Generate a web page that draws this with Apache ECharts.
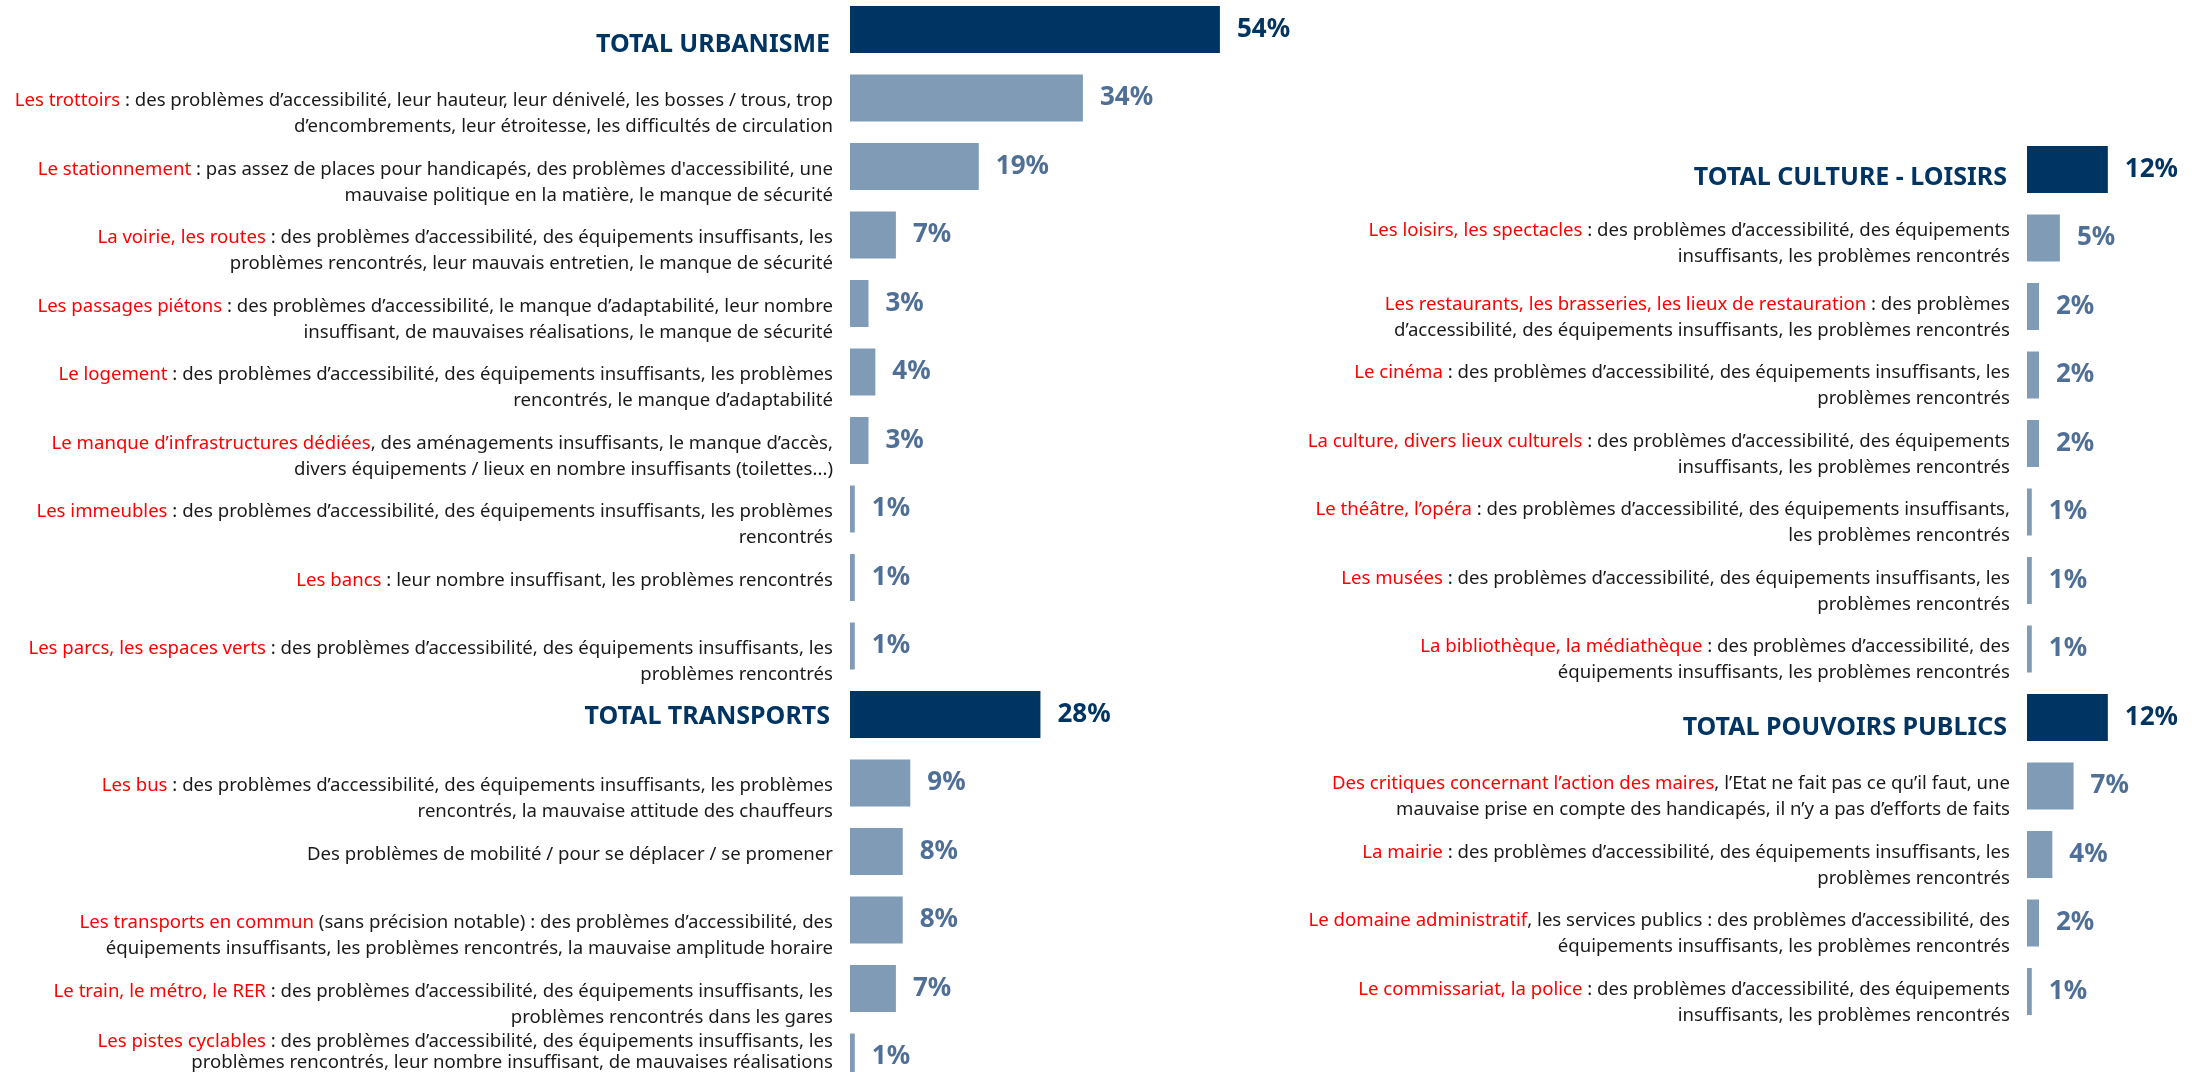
<!DOCTYPE html>
<html>
<head>
<meta charset="utf-8">
<script src="https://cdn.jsdelivr.net/npm/echarts@6/dist/echarts.min.js"></script>
<style>
  html, body { margin: 0; padding: 0; background: #fff; }
  #chart { width: 2192px; height: 1072px; }
</style>
</head>
<body>
<div id="chart"></div>
<script>
// catégories : partie rouge | suite en noir (\n = retour à la ligne)
const leftCats = [
  'TOTAL URBANISME',
  'Les trottoirs| : des problèmes d’accessibilité, leur hauteur, leur dénivelé, les bosses / trous, trop\nd’encombrements, leur étroitesse, les difficultés de circulation',
  'Le stationnement| : pas assez de places pour handicapés, des problèmes d\'accessibilité, une\nmauvaise politique en la matière, le manque de sécurité',
  'La voirie, les routes| : des problèmes d’accessibilité, des équipements insuffisants, les\nproblèmes rencontrés, leur mauvais entretien, le manque de sécurité',
  'Les passages piétons| : des problèmes d’accessibilité, le manque d’adaptabilité, leur nombre\ninsuffisant, de mauvaises réalisations, le manque de sécurité',
  'Le logement| : des problèmes d’accessibilité, des équipements insuffisants, les problèmes\nrencontrés, le manque d’adaptabilité',
  'Le manque d’infrastructures dédiées|, des aménagements insuffisants, le manque d’accès,\ndivers équipements / lieux en nombre insuffisants (toilettes...)',
  'Les immeubles| : des problèmes d’accessibilité, des équipements insuffisants, les problèmes\nrencontrés',
  'Les bancs| : leur nombre insuffisant, les problèmes rencontrés',
  'Les parcs, les espaces verts| : des problèmes d’accessibilité, des équipements insuffisants, les\nproblèmes rencontrés',
  'TOTAL TRANSPORTS',
  'Les bus| : des problèmes d’accessibilité, des équipements insuffisants, les problèmes\nrencontrés, la mauvaise attitude des chauffeurs',
  '|Des problèmes de mobilité / pour se déplacer / se promener',
  'Les transports en commun| (sans précision notable) : des problèmes d’accessibilité, des\néquipements insuffisants, les problèmes rencontrés, la mauvaise amplitude horaire',
  'Le train, le métro, le RER| : des problèmes d’accessibilité, des équipements insuffisants, les\nproblèmes rencontrés dans les gares',
  'Les pistes cyclables| : des problèmes d’accessibilité, des équipements insuffisants, les\nproblèmes rencontrés, leur nombre insuffisant, de mauvaises réalisations'
]
const leftValues = [54, 34, 18.8, 6.7, 2.7, 3.7, 2.7, 0.7, 0.7, 0.7, 27.8, 8.8, 7.7, 7.7, 6.7, 0.7]

const rightCats = [
  'TOTAL CULTURE - LOISIRS',
  'Les loisirs, les spectacles| : des problèmes d’accessibilité, des équipements\ninsuffisants, les problèmes rencontrés',
  'Les restaurants, les brasseries, les lieux de restauration| : des problèmes\nd’accessibilité, des équipements insuffisants, les problèmes rencontrés',
  'Le cinéma| : des problèmes d’accessibilité, des équipements insuffisants, les\nproblèmes rencontrés',
  'La culture, divers lieux culturels| : des problèmes d’accessibilité, des équipements\ninsuffisants, les problèmes rencontrés',
  'Le théâtre, l’opéra| : des problèmes d’accessibilité, des équipements insuffisants,\nles problèmes rencontrés',
  'Les musées| : des problèmes d’accessibilité, des équipements insuffisants, les\nproblèmes rencontrés',
  'La bibliothèque, la médiathèque| : des problèmes d’accessibilité, des\néquipements insuffisants, les problèmes rencontrés',
  'TOTAL POUVOIRS PUBLICS',
  'Des critiques concernant l’action des maires|, l’Etat ne fait pas ce qu’il faut, une\nmauvaise prise en compte des handicapés, il n’y a pas d’efforts de faits',
  'La mairie| : des problèmes d’accessibilité, des équipements insuffisants, les\nproblèmes rencontrés',
  'Le domaine administratif|, les services publics : des problèmes d’accessibilité, des\néquipements insuffisants, les problèmes rencontrés',
  'Le commissariat, la police| : des problèmes d’accessibilité, des équipements\ninsuffisants, les problèmes rencontrés'
]
const rightValues = [11.8, 4.8, 1.75, 1.75, 1.75, 0.7, 0.7, 0.7, 11.8, 6.8, 3.7, 1.75, 0.7]

const totals = ['TOTAL URBANISME', 'TOTAL TRANSPORTS', 'TOTAL CULTURE - LOISIRS', 'TOTAL POUVOIRS PUBLICS']
// libellés centrés sur la barre (interligne serré)
const compactRows = ['Les pistes cyclables']
// décalage vertical des libellés (px, + = vers le bas)
const labelShift = {
  'TOTAL URBANISME': 15,
  'TOTAL TRANSPORTS': 2,
  'TOTAL CULTURE - LOISIRS': 8,
  'TOTAL POUVOIRS PUBLICS': 10,
  'Les pistes cyclables': -5,
  'Les loisirs, les spectacles': -7
}

const FONT = '"Noto Sans", "Open Sans", sans-serif'
const NAVY = '#003462'
const STEEL = '#7f9bb5'
const STEEL_TXT = '#4f6f96'
const ROW = 68.5
const TXT = 18.6

let isTotal = name => totals.indexOf(name) >= 0
let headOf = name => name.split('|')[0]

let labelFormatter = function(name) {
  if (isTotal(name)) {
    return '{tot|' + name + '}'
  }
  let parts = name.split('|')
  let red = parts[0]
  let lines = parts[1].split('\n')
  let compact = compactRows.indexOf(red) >= 0
  let r = compact ? 'r2' : 'r'
  let k = compact ? 'k2' : 'k'
  let out = (red ? '{' + r + '|' + red + '}' : '') + '{' + k + '|' + lines[0] + '}'
  if (lines.length > 1) {
    out = out + '\n{' + k + '|' + lines[1] + '}'
    // la première ligne reste au niveau de la barre
    if (!compact) out = '\n' + out
  }
  return out
}

let rich = {
  r: { color: '#ff0000', fontSize: TXT, fontFamily: FONT, lineHeight: 26 },
  k: { color: '#1a1a1a', fontSize: TXT, fontFamily: FONT, lineHeight: 26 },
  r2: { color: '#ff0000', fontSize: TXT, fontFamily: FONT, lineHeight: 21 },
  k2: { color: '#1a1a1a', fontSize: TXT, fontFamily: FONT, lineHeight: 21 },
  tot: { color: NAVY, fontSize: 25, fontWeight: 'bold', fontFamily: FONT, padding: [0, 3, 0, 0] }
}

let padOf = s => s >= 0 ? [2 * s, 0, 0, 0] : [0, 0, -2 * s, 0]

let axisData = (cats, defShift) => cats.map(c => {
  let key = headOf(c)
  let s = labelShift[key] !== undefined ? labelShift[key] : defShift
  return { value: c, textStyle: { padding: padOf(s) } }
})

let buildData = (cats, values) => values.map((v, i) => {
  let tot = isTotal(cats[i])
  return {
    value: v,
    itemStyle: { color: tot ? NAVY : STEEL },
    label: { color: tot ? NAVY : STEEL_TXT }
  }
})

let yAxisBase = function(cats, gridIndex, defShift) {
  return {
    type: 'category',
    gridIndex: gridIndex,
    inverse: true,
    data: axisData(cats, defShift),
    axisLine: { show: false },
    axisTick: { show: false },
    splitLine: { show: false },
    axisLabel: {
      interval: 0,
      margin: 17,
      align: 'right',
      lineHeight: 26,
      fontFamily: FONT,
      fontSize: TXT,
      formatter: labelFormatter,
      rich: rich
    }
  }
}

let barLabel = {
  show: true,
  position: 'right',
  distance: 17,
  fontFamily: FONT,
  fontSize: 26,
  fontWeight: 'bold',
  formatter: p => Math.round(p.value) + '%'
}

let chart = echarts.init(document.getElementById('chart'), null, { renderer: 'canvas' })
chart.setOption({
  backgroundColor: '#ffffff',
  animation: false,
  grid: [
    { left: 850, top: 29.5 - ROW / 2, width: 60 * 6.85, height: ROW * leftCats.length, outerBoundsMode: 'none', containLabel: false },
    { left: 2027, top: 169.5 - ROW / 2, width: 20 * 6.85, height: ROW * rightCats.length, outerBoundsMode: 'none', containLabel: false }
  ],
  xAxis: [
    { type: 'value', gridIndex: 0, min: 0, max: 60, show: false },
    { type: 'value', gridIndex: 1, min: 0, max: 20, show: false }
  ],
  yAxis: [yAxisBase(leftCats, 0, 3), yAxisBase(rightCats, 1, -2)],
  series: [
    {
      type: 'bar',
      xAxisIndex: 0,
      yAxisIndex: 0,
      barWidth: 47,
      data: buildData(leftCats, leftValues),
      label: barLabel
    },
    {
      type: 'bar',
      xAxisIndex: 1,
      yAxisIndex: 1,
      barWidth: 47,
      data: buildData(rightCats, rightValues),
      label: barLabel
    }
  ]
})
</script>
</body>
</html>
